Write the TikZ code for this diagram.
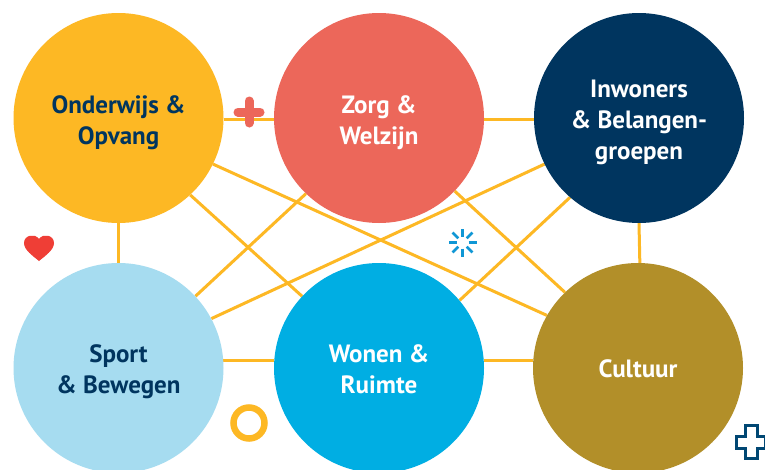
\documentclass[tikz,border=0pt]{standalone}
\usepackage{fontspec}
\setmainfont{PT Sans}
\usetikzlibrary{backgrounds}
\definecolor{cyellow}{HTML}{FDB824}
\definecolor{csalmon}{HTML}{EC675A}
\definecolor{cnavy}{HTML}{00355F}
\definecolor{clight}{HTML}{A6DCF0}
\definecolor{cblue}{HTML}{00AEE3}
\definecolor{cgold}{HTML}{B28F29}
\definecolor{cline}{HTML}{FDB824}
\definecolor{cheart}{HTML}{EF3E36}
\definecolor{cspark}{HTML}{1097D5}
\newcommand{\shifted}[2]{\raisebox{#1}[0pt][0pt]{\begin{tabular}{c}#2\end{tabular}}}
\tikzset{
  bubble/.style={circle,minimum size=210pt,inner sep=0pt,align=center,font=\fontsize{25}{31}\selectfont\bfseries},
  link/.style={cline,line width=3pt},
  spark/.style={cspark,line width=2.6pt},
}
\begin{document}
\begin{tikzpicture}[x=1pt,y=-1pt]
\useasboundingbox (0,0) rectangle (765,469);
\clip (0,0) rectangle (765,469);
\node[bubble,fill=cyellow,text=cnavy] (ow) at (118.5,118) {\shifted{-11pt}{Onderwijs \&\\Opvang}};
\node[bubble,fill=csalmon,text=white] (zw) at (379,118) {\shifted{-11pt}{Zorg \&\\Welzijn}};
\node[bubble,fill=cnavy,text=white] (ib) at (639,118) {\shifted{-11pt}{Inwoners\\\& Belangen-\\groepen}};
\node[bubble,fill=clight,text=cnavy] (sb) at (118.5,368) {\shifted{-10pt}{Sport\\\& Bewegen}};
\node[bubble,fill=cblue,text=white] (wr) at (379,368) {\shifted{-10.5pt}{Wonen \&\\Ruimte}};
\node[bubble,fill=cgold,text=white] (cu) at (638,368) {\shifted{-10pt}{Cultuur}};
\begin{scope}[on background layer]
\fill[white] (0,0) rectangle (765,469);
\draw[link] (ow.-1) -- (zw.181);
\draw[link] (zw.-1) -- (ib.181);
\draw[link] (ow.270) -- (sb.90);
\draw[link] (ib.270) -- (cu.89.45);
\draw[link] (sb.4) -- (wr.176);
\draw[link] (wr.4) -- (cu.176);
\draw[link] (ow.-47) -- (wr.137);
\draw[link] (ow.-26) -- (cu.150.8);
\draw[link] (zw.226) -- (sb.43);
\draw[link] (zw.-44.6) -- (cu.134);
\draw[link] (ib.206.6) -- (sb.28);
\draw[link] (ib.229) -- (wr.40.7);
\end{scope}
% plus
\draw[csalmon,line width=9pt,line cap=round] (249,101) -- (249,123);
\draw[csalmon,line width=9pt,line cap=round] (238,112) -- (260,112);
% heart
\fill[cheart] (39,261)
  .. controls (33,256) and (24,250) .. (24,243)
  .. controls (24,235) and (35,233) .. (39,239)
  .. controls (43,233) and (54,235) .. (54,243)
  .. controls (54,250) and (45,256) .. cycle;
% ring
\draw[cyellow,line width=6.5pt] (249,423) circle (15.5pt);
% spark
\foreach \a in {0,45,...,315}
  \draw[spark] (462.5,242.5) ++(\a:6pt) -- ++(\a:8pt);
% hollow cross
\draw[cnavy!85!cblue,line width=3pt,line join=miter]
  (745,425) -- (757,425) -- (757,436) -- (765,436) -- (765,448) -- (757,448) -- (757,458) -- (745,458)
  -- (745,448) -- (736,448) -- (736,436) -- (745,436) -- cycle;
\end{tikzpicture}
\end{document}
